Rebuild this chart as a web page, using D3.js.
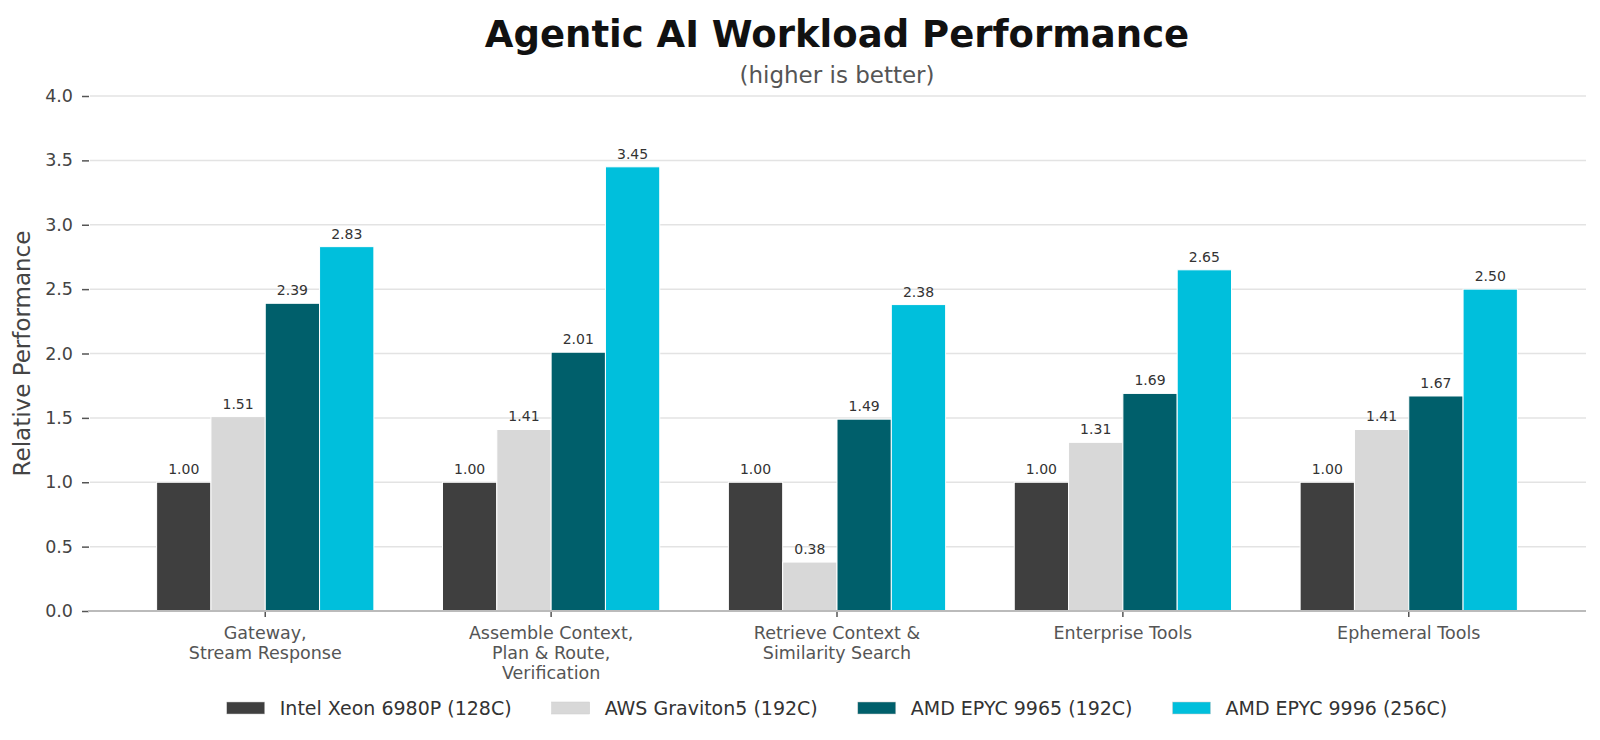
<!DOCTYPE html>
<html>
<head>
<meta charset="utf-8">
<script src="https://cdn.jsdelivr.net/npm/d3@7"></script>
<style>
  html, body { margin: 0; padding: 0; background: #ffffff; }
  svg { display: block; font-family: "DejaVu Sans", sans-serif; }
</style>
</head>
<body>
<svg id="chart" width="1600" height="740"></svg>
<script>
const categories = [
  ["Gateway,", "Stream Response"],
  ["Assemble Context,", "Plan & Route,", "Verification"],
  ["Retrieve Context &", "Similarity Search"],
  ["Enterprise Tools"],
  ["Ephemeral Tools"]
];
const seriesNames = ["Intel Xeon 6980P (128C)", "AWS Graviton5 (192C)", "AMD EPYC 9965 (192C)", "AMD EPYC 9996 (256C)"];
const intelXeon = [1.00, 1.00, 1.00, 1.00, 1.00];
const awsGraviton5 = [1.51, 1.41, 0.38, 1.31, 1.41];
const amdEpyc9965 = [2.39, 2.01, 1.49, 1.69, 1.67];
const amdEpyc9996 = [2.83, 3.45, 2.38, 2.65, 2.50];
const yTicks = [0.0, 0.5, 1.0, 1.5, 2.0, 2.5, 3.0, 3.5, 4.0];
const seriesColors = ["#3f3f3f", "#d8d8d8", "#005f6b", "#00bfdc"];

const seriesValues = [intelXeon, awsGraviton5, amdEpyc9965, amdEpyc9996];
const svg = d3.select("#chart");
const plotLeft = 88, plotRight = 1586, plotTop = 96, plotBottom = 611;

const x0 = d3.scaleBand().domain(d3.range(categories.length)).range([plotLeft, plotRight])
  .paddingInner(0.24).paddingOuter(0.24);
const x1 = d3.scaleBand().domain(d3.range(seriesNames.length)).range([0, x0.bandwidth()]);
const y = d3.scaleLinear().domain([0, 4]).range([plotBottom, plotTop]);

// title
svg.append("text").attr("x", (plotLeft + plotRight) / 2).attr("y", 47)
  .attr("text-anchor", "middle").attr("font-size", 37).attr("font-weight", "bold")
  .attr("fill", "#111").text("Agentic AI Workload Performance");
svg.append("text").attr("x", (plotLeft + plotRight) / 2).attr("y", 83)
  .attr("text-anchor", "middle").attr("font-size", 23)
  .attr("fill", "#555").text("(higher is better)");

// gridlines
svg.append("g").selectAll("line").data(yTicks.filter(d => d > 0)).join("line")
  .attr("x1", 90).attr("x2", plotRight)
  .attr("y1", d => y(d)).attr("y2", d => y(d))
  .attr("stroke", "#e3e3e3").attr("stroke-width", 1.5);

// y axis
const yAxis = svg.append("g").attr("transform", `translate(89,0)`)
  .call(d3.axisLeft(y).tickValues(yTicks).tickFormat(d3.format(".1f")).tickSize(7).tickPadding(9));
yAxis.select(".domain").remove();
yAxis.selectAll(".tick line").attr("stroke", "#555").attr("stroke-width", 1.5);
yAxis.selectAll(".tick text").attr("font-size", 17.5).attr("fill", "#444")
  .attr("font-family", "DejaVu Sans");

// y label
svg.append("text").attr("transform", `translate(30,${(plotTop + plotBottom) / 2}) rotate(-90)`)
  .attr("text-anchor", "middle").attr("font-size", 23).attr("fill", "#444")
  .text("Relative Performance");

// bars
const groups = svg.append("g").selectAll("g").data(categories).join("g")
  .attr("transform", (d, i) => `translate(${x0(i)},0)`);
groups.selectAll("rect").data((d, i) => seriesValues.map((s, k) => ({ k, v: s[i] }))).join("rect")
  .attr("x", d => x1(d.k)).attr("width", x1.bandwidth())
  .attr("y", d => y(d.v)).attr("height", d => y(0) - y(d.v))
  .attr("fill", d => seriesColors[d.k]).attr("stroke", "#ffffff").attr("stroke-width", 1);
groups.selectAll("text.val").data((d, i) => seriesValues.map((s, k) => ({ k, v: s[i] }))).join("text")
  .attr("class", "val")
  .attr("x", d => x1(d.k) + x1.bandwidth() / 2).attr("y", d => y(d.v) - 8)
  .attr("text-anchor", "middle").attr("font-size", 14).attr("fill", "#333")
  .text(d => d.v.toFixed(2));

// x axis line
svg.append("line").attr("x1", plotLeft).attr("x2", plotRight).attr("y1", plotBottom).attr("y2", plotBottom)
  .attr("stroke", "#bbbbbb").attr("stroke-width", 2);
// x ticks and labels
const xg = svg.append("g").selectAll("g").data(categories).join("g")
  .attr("transform", (d, i) => `translate(${x0(i) + x0.bandwidth() / 2},${plotBottom})`);
xg.append("line").attr("y1", 1).attr("y2", 6).attr("stroke", "#555").attr("stroke-width", 1.5);
xg.each(function (lines) {
  const t = d3.select(this).append("text").attr("text-anchor", "middle")
    .attr("font-size", 17.5).attr("fill", "#555");
  lines.forEach((ln, j) => t.append("tspan").attr("x", 0).attr("y", 28 + j * 20).text(ln));
});

// legend
const legend = svg.append("g");
const items = legend.selectAll("g").data(seriesNames).join("g");
items.append("rect").attr("width", 38).attr("height", 12).attr("y", -6)
  .attr("fill", (d, i) => seriesColors[i]).attr("stroke", "#cccccc").attr("stroke-width", 0.5);
items.append("text").attr("x", 53).attr("y", 7).attr("font-size", 19).attr("fill", "#333").text(d => d);
let cx = 0;
items.each(function () {
  const w = 53 + d3.select(this).select("text").node().getComputedTextLength();
  d3.select(this).attr("transform", `translate(${cx},0)`);
  cx += w + 40;
});
const total = cx - 40;
legend.attr("transform", `translate(${(plotLeft + plotRight) / 2 - total / 2},708)`);
</script>
</body>
</html>
